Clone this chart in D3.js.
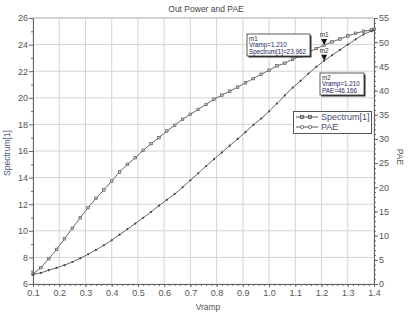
<!DOCTYPE html>
<html>
<head>
<meta charset="utf-8">
<script src="https://cdn.jsdelivr.net/npm/d3@7"></script>
<style>
  body { margin: 0; background: #fff; }
  svg { display: block; font-family: "Liberation Sans", Arial, sans-serif; }
</style>
</head>
<body>
<script>
// sweep values (Vramp)
const vramp = [0.10,0.13,0.16,0.19,0.22,0.25,0.28,0.31,0.34,0.37,0.40,0.43,0.46,0.49,0.52,0.55,0.58,0.61,0.64,0.67,
  0.70,0.73,0.76,0.79,0.82,0.85,0.88,0.91,0.94,0.97,1.00,1.03,1.06,1.09,1.12,1.15,1.18,1.21,1.24,1.27,1.30,1.33,1.36,1.39,1.40];
const spectrum = [6.75,7.23,7.9,8.6,9.4,10.19,10.98,11.74,12.44,13.07,13.74,14.42,15.0,15.5,16.05,16.55,17.0,17.5,17.93,18.38,
  18.76,19.13,19.5,19.89,20.2,20.5,20.8,21.13,21.44,21.77,22.07,22.4,22.6,22.9,23.15,23.42,23.7,23.962,24.2,24.42,24.65,24.85,25.0,25.1,25.15];
const pae = [2.0,2.3,2.85,3.35,3.9,4.55,5.3,6.15,7.05,8.0,9.05,10.2,11.35,12.5,13.7,14.9,16.2,17.4,18.6,20.0,
  21.45,22.9,24.4,25.8,27.2,28.6,30.0,31.4,32.9,34.2,35.7,37.3,39.0,40.6,42.0,43.5,44.9,46.166,47.3,48.4,49.5,50.6,51.6,52.3,52.45];
const xTicks = [0.1,0.2,0.3,0.4,0.5,0.6,0.7,0.8,0.9,1.0,1.1,1.2,1.3,1.4];
const yLeftTicks = [6,8,10,12,14,16,18,20,22,24,26];
const yRightTicks = [0,5,10,15,20,25,30,35,40,45,50,55];
const markerX = 1.21;

const width = 409, height = 316;
const margin = {top: 18, right: 35, bottom: 32, left: 33};

const x = d3.scaleLinear().domain([0.1, 1.4]).range([margin.left, width - margin.right]);
const yL = d3.scaleLinear().domain([6, 26]).range([height - margin.bottom, margin.top]);
const yR = d3.scaleLinear().domain([0, 55]).range([height - margin.bottom, margin.top]);

const svg = d3.select("body").append("svg")
  .attr("width", width).attr("height", height);

svg.append("rect").attr("width", width).attr("height", height).attr("fill", "#fff");

// grid
const grid = svg.append("g").attr("stroke", "#d4d4d4").attr("stroke-width", 1);
grid.selectAll(".gx").data(xTicks).join("line")
  .attr("x1", d => x(d)).attr("x2", d => x(d))
  .attr("y1", margin.top).attr("y2", height - margin.bottom);
grid.selectAll(".gy").data(yLeftTicks).join("line")
  .attr("x1", margin.left).attr("x2", width - margin.right)
  .attr("y1", d => yL(d)).attr("y2", d => yL(d));

const axisColor = "#666";
const labelColor = "#555";

// axes
svg.append("g")
  .attr("transform", `translate(0,${height - margin.bottom})`)
  .call(d3.axisBottom(x).tickValues(xTicks).tickFormat(d3.format(".1f")).tickSize(3).tickPadding(3));
svg.append("g")
  .attr("transform", `translate(0,${height - margin.bottom})`)
  .call(d3.axisBottom(x).tickValues(d3.range(0.1, 1.4001, 0.02)).tickFormat("").tickSize(2).tickSizeOuter(0));

svg.append("g")
  .attr("transform", `translate(${margin.left},0)`)
  .call(d3.axisLeft(yL).tickValues(yLeftTicks).tickSize(4).tickPadding(1));
svg.append("g")
  .attr("transform", `translate(${margin.left},0)`)
  .call(d3.axisLeft(yL).tickValues(d3.range(7, 26, 2)).tickFormat("").tickSize(2).tickSizeOuter(0));

svg.append("g")
  .attr("transform", `translate(${width - margin.right},0)`)
  .call(d3.axisRight(yR).tickValues(yRightTicks).tickSize(4).tickPadding(1));
svg.append("g")
  .attr("transform", `translate(${width - margin.right},0)`)
  .call(d3.axisRight(yR).tickValues(d3.range(1, 55, 1)).tickFormat("").tickSize(2).tickSizeOuter(0));

svg.selectAll(".domain, .tick line").attr("stroke", axisColor);
svg.selectAll(".tick text").attr("fill", labelColor).style("font-size", "9px")
  .style("font-family", "\"Liberation Sans\", Arial, sans-serif");

// top border
svg.append("line")
  .attr("x1", margin.left).attr("x2", width - margin.right)
  .attr("y1", margin.top).attr("y2", margin.top)
  .attr("stroke", "#bbb");

// titles
svg.append("text").attr("x", 206).attr("y", 12).attr("text-anchor", "middle")
  .attr("fill", "#444").style("font-size", "8.5px").text("Out Power and PAE");
svg.append("text").attr("x", 208).attr("y", 310).attr("text-anchor", "middle")
  .attr("fill", "#555").style("font-size", "8.5px").text("Vramp");
svg.append("text").attr("transform", "translate(10,153) rotate(-90)").attr("text-anchor", "middle")
  .attr("fill", "#4a5a78").style("font-size", "8.5px").text("Spectrum[1]");
svg.append("text").attr("transform", "translate(397,157) rotate(90)").attr("text-anchor", "middle")
  .attr("fill", "#555").style("font-size", "8.5px").text("PAE");

// series
const specData = vramp.map((v, i) => ({v, y: spectrum[i]}));
const paeData = vramp.map((v, i) => ({v, y: pae[i]}));

svg.append("path").datum(specData)
  .attr("fill", "none").attr("stroke", "#666").attr("stroke-width", 1)
  .attr("d", d3.line().x(d => x(d.v)).y(d => yL(d.y)));
svg.append("path").datum(paeData)
  .attr("fill", "none").attr("stroke", "#666").attr("stroke-width", 1)
  .attr("d", d3.line().x(d => x(d.v)).y(d => yR(d.y)));

svg.append("g").selectAll("rect").data(specData).join("rect")
  .attr("x", d => x(d.v) - 1.3).attr("y", d => yL(d.y) - 1.3)
  .attr("width", 2.6).attr("height", 2.6)
  .attr("fill", "#bbb").attr("stroke", "#555").attr("stroke-width", 0.6);
svg.append("g").selectAll("circle").data(paeData).join("circle")
  .attr("cx", d => x(d.v)).attr("cy", d => yR(d.y)).attr("r", 1.1)
  .attr("fill", "#444");

// markers m1 / m2
const iM = vramp.indexOf(markerX);
const markers = [
  {name: "m1", px: x(markerX), py: yL(spectrum[iM])},
  {name: "m2", px: x(markerX), py: yR(pae[iM])}
];
markers.forEach(m => {
  svg.append("path")
    .attr("d", `M${m.px - 3},${m.py - 6}L${m.px + 3},${m.py - 6}L${m.px},${m.py}Z`)
    .attr("fill", "#111");
  svg.append("text").attr("x", m.px).attr("y", m.py - 8).attr("text-anchor", "middle")
    .attr("fill", "#333").style("font-size", "6.5px").text(m.name);
});

// marker readouts
function readout(bx, by, w, h, lines) {
  svg.append("rect").attr("x", bx + 1.5).attr("y", by + 1.5).attr("width", w).attr("height", h)
    .attr("fill", "#333");
  svg.append("rect").attr("x", bx).attr("y", by).attr("width", w).attr("height", h)
    .attr("fill", "#fff").attr("stroke", "#333").attr("stroke-width", 0.8);
  lines.forEach((t, i) => {
    svg.append("text").attr("x", bx + 2).attr("y", by + 6.5 + i * 6.8)
      .attr("fill", i === 0 ? "#333" : "#1a1a60").style("font-size", "6.3px").text(t);
  });
}
readout(247, 34, 63, 22, ["m1", "Vramp=" + markerX.toFixed(3), "Spectrum[1]=" + spectrum[iM].toFixed(3)]);
readout(320, 73, 44, 22, ["m2", "Vramp=" + markerX.toFixed(3), "PAE=" + pae[iM].toFixed(3)]);

// legend
const lg = svg.append("g");
lg.append("rect").attr("x", 293.5).attr("y", 111.5).attr("width", 78).attr("height", 22)
  .attr("fill", "#fff").attr("stroke", "#555").attr("stroke-width", 1);
const legendItems = [
  {label: "Spectrum[1]", shape: "square"},
  {label: "PAE", shape: "circle"}
];
legendItems.forEach((it, i) => {
  const ly = 117 + i * 10;
  lg.append("line").attr("x1", 296).attr("x2", 318).attr("y1", ly).attr("y2", ly)
    .attr("stroke", "#555").attr("stroke-width", 1);
  [302, 310].forEach(cx => {
    if (it.shape === "square") {
      lg.append("rect").attr("x", cx - 1.6).attr("y", ly - 1.6).attr("width", 3.2).attr("height", 3.2)
        .attr("fill", "#aaa").attr("stroke", "#444").attr("stroke-width", 0.7);
    } else {
      lg.append("circle").attr("cx", cx).attr("cy", ly).attr("r", 1.6)
        .attr("fill", "#fff").attr("stroke", "#444").attr("stroke-width", 0.7);
    }
  });
  lg.append("text").attr("x", 321).attr("y", ly + 3.2)
    .attr("fill", "#4a4a70").style("font-size", "9px").text(it.label);
});
</script>
</body>
</html>
